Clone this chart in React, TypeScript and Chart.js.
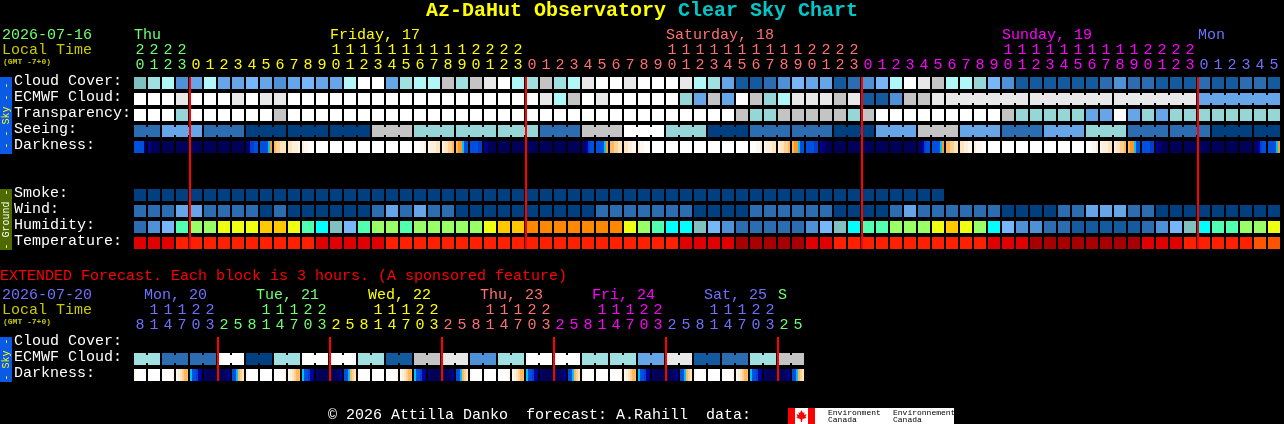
import React, { useEffect, useRef } from "react";
import { Chart, registerables } from "chart.js";

Chart.register(...registerables);

const FONT = '"Liberation Mono", monospace';

// ---------- palettes ----------
const skyPalette = ["#004080", "#135a9e", "#2c6cb0", "#4f91d6", "#65a5e8", "#78b6fa", "#80c0c0", "#96d6d6", "#a0e0e0", "#b0f8f8", "#c4c4c4", "#e8e8e8", "#ffffff"];
const humidityPalette = ["#135a9e", "#2c6cb0", "#4f91d6", "#78b6fa", "#80c0c0", "#00ffff", "#50ffb0", "#99ff66", "#eeff11", "#ffc800", "#ff8800"];
const temperaturePalette = ["#a80000", "#e00000", "#ff2000", "#ff5500"];
const darknessPalette: Record<string, string> = { "0": "#000058", "1": "#000074", "2": "#0000a0", "3": "#0040d0", "4": "#0050e0", "5": "#00c0ff", "6": "#ff9820", "7": "#ffb860", "8": "#ffd090", "9": "#ffe4c0", a: "#fff0dc", b: "#fff8f0", c: "#ffffff" };

// ---------- main forecast ----------
const mainRowLabels = ["Cloud Cover:", "ECMWF Cloud:", "Transparency:", "Seeing:", "Darkness:", "", "", "Smoke:", "Wind:", "Humidity:", "Temperature:"];
const mainHours = [20, 21, 22, 23, 0, 1, 2, 3, 4, 5, 6, 7, 8, 9, 10, 11, 12, 13, 14, 15, 16, 17, 18, 19, 20, 21, 22, 23, 0, 1, 2, 3, 4, 5, 6, 7, 8, 9, 10, 11, 12, 13, 14, 15, 16, 17, 18, 19, 20, 21, 22, 23, 0, 1, 2, 3, 4, 5, 6, 7, 8, 9, 10, 11, 12, 13, 14, 15, 16, 17, 18, 19, 20, 21, 22, 23, 0, 1, 2, 3, 4, 5];
const mainDays = [
  { label: "Thu", at: 0, first: 0, color: "#70ff70" },
  { label: "Friday, 17", at: 14, first: 4, color: "#ffff00" },
  { label: "Saturday, 18", at: 38, first: 28, color: "#ff7070" },
  { label: "Sunday, 19", at: 62, first: 52, color: "#ff00ff" },
  { label: "Mon", at: 76, first: 76, color: "#7070ff" },
];
const mainMidnights = [4, 28, 52, 76];

const cloudCover = [6, 8, 9, 3, 4, 9, 4, 4, 5, 4, 3, 4, 5, 4, 4, 9, 12, 12, 4, 8, 9, 9, 10, 8, 10, 11, 12, 9, 8, 10, 8, 9, 11, 12, 12, 11, 12, 12, 12, 11, 9, 8, 4, 1, 1, 2, 3, 5, 4, 4, 1, 2, 3, 5, 9, 12, 11, 10, 9, 9, 7, 5, 3, 1, 1, 1, 1, 1, 1, 2, 3, 2, 2, 1, 1, 1, 2, 1, 1, 2, 2, 1];
const ecmwfCloud = [12, 12, 12, 11, 12, 12, 12, 11, 12, 11, 11, 12, 12, 12, 12, 12, 12, 12, 12, 12, 12, 12, 12, 12, 12, 12, 12, 12, 12, 11, 9, 10, 12, 11, 12, 12, 12, 12, 12, 7, 4, 10, 4, 12, 10, 7, 9, 11, 11, 11, 10, 11, 1, 1, 3, 10, 10, 11, 11, 11, 11, 11, 11, 11, 11, 11, 11, 11, 11, 11, 11, 11, 11, 11, 11, 11, 4, 4, 4, 4, 4, 4];
const ecmwfRuns = [[58, 63], [64, 69], [70, 75], [76, 81]];
const transparency = [12, 12, 12, 7, 12, 12, 12, 12, 12, 12, 10, 12, 12, 12, 12, 12, 12, 12, 12, 12, 12, 12, 12, 12, 12, 12, 12, 12, 12, 12, 12, 12, 12, 12, 12, 12, 12, 12, 12, 12, 12, 12, 12, 10, 7, 7, 10, 10, 10, 10, 10, 7, 10, 12, 12, 12, 12, 12, 12, 12, 12, 12, 10, 7, 7, 7, 7, 7, 4, 4, 12, 4, 7, 4, 7, 7, 7, 7, 7, 7, 7, 7];
const seeing = [2, 2, 4, 4, 4, 2, 2, 2, 0, 0, 0, 0, 0, 0, 0, 0, 0, 10, 10, 10, 7, 7, 7, 7, 7, 7, 7, 7, 7, 2, 2, 2, 10, 10, 10, 12, 12, 12, 7, 7, 7, 0, 0, 0, 2, 2, 2, 2, 2, 2, 0, 0, 0, 4, 4, 4, 10, 10, 10, 4, 4, 4, 2, 2, 2, 4, 4, 4, 7, 7, 7, 2, 2, 2, 2, 2, 2, 0, 0, 0, 0, 0];
const seeingRuns = [[0, 1], [2, 4], [5, 7], [8, 10], [11, 13], [14, 16], [17, 19], [20, 22], [23, 25], [26, 28], [29, 31], [32, 34], [35, 37], [38, 40], [41, 43], [44, 46], [47, 49], [50, 52], [53, 55], [56, 58], [59, 61], [62, 64], [65, 67], [68, 70], [71, 73], [74, 76], [77, 79], [80, 81]];
const darkness = ["444441", "210000", "000000", "000000", "000000", "000000", "000000", "000000", "113344", "444456", "788999", "99aaab", "abbccc", "cccccc", "cccccc", "cccccc", "cccccc", "cccccc", "cccccc", "cccccc", "cccbba", "baaa99", "a99887", "766544", "444433", "210000", "000000", "000000", "000000", "000000", "000000", "000000", "112344", "444456", "778899", "99aabb", "abbccc", "cccccc", "cccccc", "cccccc", "cccccc", "cccccc", "cccccc", "cccccc", "cccbba", "baaa99", "a99887", "766544", "444433", "211000", "000000", "000000", "000000", "000000", "000000", "000000", "112344", "444456", "778899", "99aabb", "abbbcc", "cccccc", "cccccc", "cccccc", "cccccc", "cccccc", "cccccc", "cccccc", "cccbba", "baaa99", "a99887", "766544", "444433", "211000", "000000", "000000", "000000", "000000", "000000", "000000", "112344", "444456"];
const smoke = [0, 0, 0, 0, 0, 0, 0, 0, 0, 0, 0, 0, 0, 0, 0, 0, 0, 0, 0, 0, 0, 0, 0, 0, 0, 0, 0, 0, 0, 0, 0, 0, 0, 0, 0, 0, 0, 0, 0, 0, 0, 0, 0, 0, 0, 0, 0, 0, 0, 0, 0, 0, 0, 0, 0, 0, 0, 0];
const wind = [2, 2, 2, 4, 4, 2, 2, 2, 2, 0, 2, 0, 0, 0, 0, 0, 0, 2, 4, 2, 4, 2, 2, 0, 0, 0, 0, 0, 0, 0, 0, 0, 0, 2, 2, 2, 2, 2, 2, 2, 0, 0, 0, 0, 2, 2, 2, 2, 2, 2, 0, 0, 0, 0, 2, 4, 2, 2, 2, 2, 2, 2, 0, 0, 0, 0, 2, 2, 4, 4, 4, 2, 2, 0, 0, 0, 0, 0, 0, 0, 0, 0];
const humidity = [1, 2, 3, 6, 7, 7, 8, 8, 8, 9, 9, 8, 6, 5, 4, 3, 6, 7, 7, 6, 7, 7, 7, 7, 7, 8, 9, 9, 10, 10, 10, 10, 10, 10, 10, 8, 7, 6, 5, 5, 4, 3, 2, 1, 1, 1, 1, 1, 2, 3, 4, 5, 6, 6, 7, 7, 7, 8, 9, 8, 7, 5, 3, 2, 2, 1, 1, 0, 0, 0, 0, 0, 1, 2, 3, 4, 5, 6, 6, 7, 7, 8];
const temperature = [1, 1, 1, 2, 2, 2, 2, 2, 2, 2, 2, 2, 2, 1, 1, 1, 1, 1, 2, 2, 2, 2, 2, 2, 2, 2, 2, 2, 2, 2, 2, 2, 2, 2, 2, 2, 2, 2, 2, 1, 1, 1, 1, 0, 0, 0, 0, 0, 1, 1, 2, 2, 2, 2, 2, 2, 2, 2, 2, 2, 2, 1, 1, 1, 0, 0, 0, 0, 0, 0, 0, 0, 1, 1, 1, 2, 2, 2, 2, 2, 3, 3];

// ---------- extended forecast ----------
const extRowLabels = ["Cloud Cover:", "ECMWF Cloud:", "Darkness:"];
const extHours = [8, 11, 14, 17, 20, 23, 2, 5, 8, 11, 14, 17, 20, 23, 2, 5, 8, 11, 14, 17, 20, 23, 2, 5, 8, 11, 14, 17, 20, 23, 2, 5, 8, 11, 14, 17, 20, 23, 2, 5, 8, 11, 14, 17, 20, 23, 2, 5];
const extDays = [
  { label: "Mon, 20", at: 0.71, first: 0, color: "#7070ff" },
  { label: "Tue, 21", at: 8.71, first: 6, color: "#70ff70" },
  { label: "Wed, 22", at: 16.71, first: 14, color: "#ffff00" },
  { label: "Thu, 23", at: 24.71, first: 22, color: "#ff7070" },
  { label: "Fri, 24", at: 32.71, first: 30, color: "#ff00ff" },
  { label: "Sat, 25", at: 40.71, first: 38, color: "#7070ff" },
  { label: "S", at: 46, first: 46, color: "#70ff70" },
];
const extMidnights = [6, 14, 22, 30, 38, 46];
const extEcmwf = [8, 8, 2, 2, 2, 2, 12, 12, 0, 0, 8, 8, 12, 12, 12, 12, 8, 8, 1, 1, 10, 10, 11, 11, 3, 3, 8, 8, 12, 12, 12, 12, 8, 8, 8, 8, 4, 4, 11, 11, 1, 1, 2, 2, 8, 8, 10, 10];
const extRuns = [[0, 1], [2, 3], [4, 5], [6, 7], [8, 9], [10, 11], [12, 13], [14, 15], [16, 17], [18, 19], [20, 21], [22, 23], [24, 25], [26, 27], [28, 29], [30, 31], [32, 33], [34, 35], [36, 37], [38, 39], [40, 41], [42, 43], [44, 45], [46, 47]];
const extDarkness = ["bccccc", "cccccc", "cccccb", "ba9877", "544322", "100000", "000012", "445789", "bccccc", "cccccc", "cccccb", "ba9877", "544322", "100000", "000012", "445789", "bccccc", "cccccc", "cccccb", "ba9877", "544322", "100000", "000012", "445789", "bccccc", "cccccc", "cccccb", "ba9877", "544322", "100000", "000012", "445789", "bccccc", "cccccc", "cccccb", "ba9877", "544322", "100000", "000012", "445789", "bccccc", "cccccc", "cccccb", "ba9877", "544322", "100000", "000012", "445789"];

// ---------- dataset builders ----------
const CELL = 12;
const cellRadius = CELL / Math.SQRT2;
const edge = CELL / 14 / 2; // half a cell in hour units

function cells(row: number, values: number[], palette: string[]) {
  return {
    data: values.map((_, i) => ({ x: i, y: row })),
    showLine: false,
    pointStyle: "rect",
    pointRadius: cellRadius,
    pointHoverRadius: cellRadius,
    pointBorderWidth: 0,
    pointBackgroundColor: values.map((v) => palette[v]),
  };
}

function bridges(row: number, values: number[], palette: string[], runs: number[][]) {
  return {
    data: values.map((_, i) => ({ x: i, y: row })),
    showLine: true,
    pointRadius: 0,
    borderWidth: 8,
    tension: 0,
    borderColor: "rgba(0,0,0,0)",
    segment: {
      borderColor: (c: any) =>
        runs.some(([a, b]) => c.p0DataIndex >= a && c.p1DataIndex <= b) ? palette[values[c.p0DataIndex]] : "rgba(0,0,0,0)",
    },
  };
}

function darkCells(row: number, values: string[]) {
  return {
    data: values.map((_, i) => ({ x: i, y: row })),
    showLine: false,
    pointStyle: "rect",
    pointRadius: cellRadius,
    pointHoverRadius: cellRadius,
    pointBorderWidth: 0,
    pointBackgroundColor: (c: any) => {
      const levels = values[c.dataIndex];
      if (!levels || !c.raw) return "#000";
      const x0 = c.chart.scales.x.getPixelForValue(c.raw.x) - CELL / 2;
      if (!Number.isFinite(x0)) return "#000";
      const g = c.chart.ctx.createLinearGradient(x0, 0, x0 + CELL, 0);
      const n = levels.length;
      for (let i = 0; i < n; i++) {
        const col = darknessPalette[levels[i]];
        g.addColorStop(i / n, col);
        g.addColorStop((i + 1) / n, col);
      }
      return g;
    },
  };
}

function redLines(midnights: number[], topRow: number, bottomRow: number) {
  return midnights.map((m) => ({
    data: [
      { x: m - edge, y: topRow - 0.375 },
      { x: m - edge, y: bottomRow + 0.375 },
    ],
    showLine: true,
    pointRadius: 0,
    borderWidth: 2,
    borderColor: "#ff0000",
  }));
}

type Txt = { t: string; x: number; y: number; font: string; color: string };

function text(ctx: any, t: Txt) {
  ctx.font = t.font;
  ctx.fillStyle = t.color;
  ctx.textAlign = "left";
  ctx.textBaseline = "middle";
  ctx.fillText(t.t, t.x, t.y);
}

function strip(ctx: any, x: number, top: number, bottom: number, bg: string, fg: string, label: string) {
  ctx.fillStyle = bg;
  ctx.fillRect(x, top, 12, bottom - top);
  ctx.save();
  ctx.translate(x + 6, (top + bottom) / 2);
  ctx.rotate(-Math.PI / 2);
  ctx.font = `10px ${FONT}`;
  ctx.fillStyle = fg;
  ctx.textAlign = "center";
  ctx.textBaseline = "middle";
  ctx.fillText(label, 0, 0);
  ctx.restore();
}

const F15 = `15px ${FONT}`;
const F8B = `bold 8px ${FONT}`;

function decorPlugin(id: string, draw: (chart: any) => void) {
  return { id, afterDraw: draw };
}

function headerDays(chart: any, days: typeof mainDays, y: number) {
  const xs = chart.scales.x;
  days.forEach((d) => {
    text(chart.ctx, { t: d.label, x: xs.getPixelForValue(d.at) - 6, y, font: F15, color: d.color });
  });
}

function axes(rowLabels: string[], hours: number[], days: typeof mainDays, axisHeight: number) {
  return {
    x: {
      type: "linear" as const,
      position: "top" as const,
      min: -0.5,
      max: 81.5,
      grid: { display: false },
      border: { display: false },
      afterBuildTicks: (s: any) => {
        s.ticks = hours.map((_, i) => ({ value: i }));
      },
      afterFit: (s: any) => {
        s.height = axisHeight;
      },
      ticks: {
        autoSkip: false,
        maxRotation: 0,
        padding: -5.5,
        font: { family: "Liberation Mono", size: 15, lineHeight: 1 },
        color: (c: any) => {
          let col = days[0].color;
          days.forEach((d) => {
            if (c.index >= d.first) col = d.color;
          });
          return col;
        },
        callback: (_v: any, i: number) => {
          const h = hours[i];
          return h === undefined ? "" : [h >= 10 ? String(Math.floor(h / 10)) : " ", String(h % 10)];
        },
      },
    },
    y: {
      type: "linear" as const,
      reverse: true,
      min: -0.5,
      max: rowLabels.length - 0.5,
      grid: { display: false },
      border: { display: false },
      afterBuildTicks: (s: any) => {
        s.ticks = rowLabels.map((_, i) => ({ value: i }));
      },
      afterFit: (s: any) => {
        s.width = 119;
      },
      ticks: {
        autoSkip: false,
        crossAlign: "far" as const,
        labelOffset: -2,
        color: "#ffffff",
        font: { family: "Liberation Mono", size: 15 },
        callback: (v: any) => rowLabels[v] ?? "",
      },
    },
  };
}

function baseOptions(scales: any, bottom: number) {
  return {
    responsive: false,
    animation: false as const,
    devicePixelRatio: 1,
    layout: { autoPadding: false, padding: { left: 14, right: 3, top: 0, bottom } },
    plugins: { legend: { display: false }, tooltip: { enabled: false }, title: { display: false } },
    events: [] as any[],
    scales,
  };
}

export default function App() {
  const mainRef = useRef<HTMLCanvasElement>(null);
  const extRef = useRef<HTMLCanvasElement>(null);

  useEffect(() => {
    document.body.style.margin = "0";
    document.body.style.background = "#000";

    const mainChart = new Chart(mainRef.current as any, {
      type: "scatter",
      data: {
        datasets: [
          ...redLines(mainMidnights, 0, 10),
          cells(0, cloudCover, skyPalette),
          cells(1, ecmwfCloud, skyPalette),
          bridges(1, ecmwfCloud, skyPalette, ecmwfRuns),
          cells(2, transparency, skyPalette),
          cells(3, seeing, skyPalette),
          bridges(3, seeing, skyPalette, seeingRuns),
          darkCells(4, darkness),
          cells(7, smoke, skyPalette),
          cells(8, wind, skyPalette),
          cells(9, humidity, humidityPalette),
          cells(10, temperature, temperaturePalette),
        ] as any,
      },
      options: baseOptions(axes(mainRowLabels, mainHours, mainDays, 75), 14) as any,
      plugins: [
        decorPlugin("mainDecor", (chart) => {
          const ctx = chart.ctx;
          const title = `bold 20px ${FONT}`;
          text(ctx, { t: "Az-DaHut Observatory", x: 426, y: 11, font: title, color: "#ffff00" });
          text(ctx, { t: "Clear Sky Chart", x: 678, y: 11, font: title, color: "#00c8c8" });
          text(ctx, { t: "2026-07-16", x: 2, y: 35, font: F15, color: "#70ff70" });
          text(ctx, { t: "Local Time", x: 2, y: 50, font: F15, color: "#c8c800" });
          text(ctx, { t: "(GMT -7+0)", x: 3, y: 62, font: F8B, color: "#c8c800" });
          headerDays(chart, mainDays, 35);
          strip(ctx, 0, 77, 154, "#0a5ae6", "#ffff00", "- - Sky - -");
          strip(ctx, 0, 189, 250, "#4f6b00", "#ffffff", "- Ground -");
        }),
      ],
    } as any);

    const extChart = new Chart(extRef.current as any, {
      type: "scatter",
      data: {
        datasets: [
          ...redLines(extMidnights, 0, 2),
          cells(1, extEcmwf, skyPalette),
          bridges(1, extEcmwf, skyPalette, extRuns),
          darkCells(2, extDarkness),
        ] as any,
      },
      options: baseOptions(axes(extRowLabels, extHours, extDays, 70), 41) as any,
      plugins: [
        decorPlugin("extDecor", (chart) => {
          const ctx = chart.ctx;
          text(ctx, { t: "EXTENDED Forecast. Each block is 3 hours. (A sponsored feature)", x: 0, y: 11, font: F15, color: "#ff0000" });
          text(ctx, { t: "2026-07-20", x: 2, y: 30, font: F15, color: "#7070ff" });
          text(ctx, { t: "Local Time", x: 2, y: 45, font: F15, color: "#c8c800" });
          text(ctx, { t: "(GMT -7+0)", x: 3, y: 57, font: F8B, color: "#c8c800" });
          headerDays(chart, extDays, 30);
          strip(ctx, 0, 72, 117, "#0a5ae6", "#ffff00", "- Sky -");
          text(ctx, { t: "\u00a9 2026 Attilla Danko  forecast: A.Rahill  data:", x: 328, y: 150, font: F15, color: "#ffffff" });
          // Environment Canada wordmark
          ctx.fillStyle = "#ffffff";
          ctx.fillRect(788, 143, 166, 16);
          ctx.fillStyle = "#ff0000";
          ctx.fillRect(788, 143, 7, 16);
          ctx.fillRect(808, 143, 7, 16);
          ctx.beginPath();
          const cx = 801.5;
          const cy = 151;
          const leaf = [[0, -6], [1.5, -3], [3, -4], [2.5, -1], [5, -2], [4, 1], [5, 2], [1, 3], [0.5, 6], [-0.5, 6], [-1, 3], [-5, 2], [-4, 1], [-5, -2], [-2.5, -1], [-3, -4], [-1.5, -3]];
          leaf.forEach(([a, b], i) => (i ? ctx.lineTo(cx + a, cy + b) : ctx.moveTo(cx + a, cy + b)));
          ctx.closePath();
          ctx.fill();
          const f8 = `8px ${FONT}`;
          text(ctx, { t: "Environment", x: 828, y: 148, font: f8, color: "#000000" });
          text(ctx, { t: "Canada", x: 828, y: 155, font: f8, color: "#000000" });
          text(ctx, { t: "Environnement", x: 893, y: 148, font: f8, color: "#000000" });
          text(ctx, { t: "Canada", x: 893, y: 155, font: f8, color: "#000000" });
        }),
      ],
    } as any);

    return () => {
      mainChart.destroy();
      extChart.destroy();
    };
  }, []);

  return (
    <div style={{ width: 1284, height: 424, background: "#000", overflow: "hidden" }}>
      <canvas ref={mainRef} width={1284} height={265} style={{ display: "block" }} />
      <canvas ref={extRef} width={1284} height={159} style={{ display: "block" }} />
    </div>
  );
}
